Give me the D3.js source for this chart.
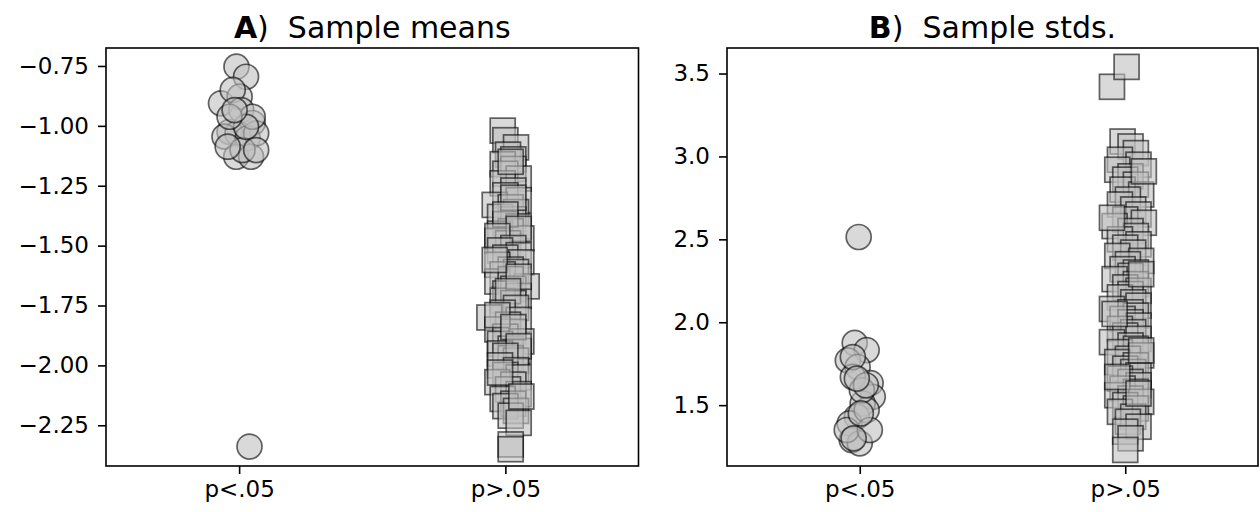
<!DOCTYPE html>
<html>
<head>
<meta charset="utf-8">
<script src="https://cdn.jsdelivr.net/npm/d3@7"></script>
<style>
  body { margin: 0; background: #fff; }
  svg text { font-family: "DejaVu Sans", sans-serif; fill: #000; }
</style>
</head>
<body>
<script>
// categories on the x axis
var groups = ["p<.05", "p>.05"];

// panel A, sample means
var meansLo = [-0.753, -0.795, -0.906, -0.878, -0.85, -0.934, -0.988, -1.025, -1.031, -1.045, -1.052,
  -1.031, -1.129, -1.129, -1.101, -1.087, -0.962, -1.004, -0.962, -0.934, -1.101, -2.339];
var meansLoJit = [-0.01, 0.026, -0.068, 0.002, -0.024, 0.008, 0.051, -0.036, -0.006, -0.055, 0.032,
  0.064, -0.011, 0.045, 0.013, -0.043, 0.051, 0.026, -0.036, -0.017, 0.064, 0.039];

var meansHi = [
  -1.02, -1.06, -1.09, -1.12, -1.14, -1.16, -1.18, -1.20, -1.22, -1.24, -1.15, -1.27,
  -1.29, -1.31, -1.33, -1.34, -1.36, -1.38, -1.39, -1.41, -1.42, -1.44, -1.45, -1.47, -1.48, -1.49, -1.30, -1.37, -1.43, -1.46,
  -1.51, -1.52, -1.54, -1.55, -1.57, -1.58, -1.60, -1.61, -1.62, -1.67, -1.65, -1.64, -1.68, -1.70, -1.71, -1.73, -1.74, -1.56, -1.63, -1.69,
  -1.76, -1.78, -1.80, -1.81, -1.83, -1.85, -1.86, -1.88, -1.90, -1.91, -1.93, -1.94, -1.95, -1.97, -1.98, -1.79, -1.84, -1.92, -1.96,
  -2.00, -2.02, -2.04, -2.05, -2.07, -2.08, -2.10, -2.12, -2.14, -2.16, -2.17, -2.19, -2.21, -2.03, -2.13,
  -2.24, -2.33, -2.35];
var meansHiJit = [
  -0.01, 0.00, 0.04, 0.01, 0.03, -0.01, 0.03, 0.00, 0.05, -0.01, 0.02, 0.03,
  0.00, 0.05, -0.04, 0.02, 0.04, -0.02, 0.03, 0.00, 0.05, 0.02, -0.02, 0.06, -0.03, 0.01, 0.03, 0.00, 0.05, -0.03,
  0.03, -0.02, 0.05, 0.00, 0.06, -0.03, 0.02, 0.04, -0.01, 0.08, -0.03, 0.02, 0.03, 0.00, 0.05, -0.01, 0.03, -0.04, 0.05, 0.01,
  0.04, -0.01, -0.06, 0.05, 0.01, -0.03, 0.03, 0.00, 0.06, -0.02, 0.02, 0.05, -0.02, 0.02, 0.04, -0.03, 0.03, 0.05, 0.00,
  -0.02, 0.04, 0.00, 0.05, -0.03, 0.03, 0.01, 0.05, -0.01, 0.03, 0.00, 0.04, 0.02, -0.02, 0.06,
  0.05, 0.02, 0.02];

// panel B, sample standard deviations
var stdsLo = [1.875, 1.832, 1.77, 1.73, 1.633, 1.67, 1.55, 1.51, 1.43, 1.39, 1.47, 1.29, 1.27, 1.35,
  1.35, 1.59, 1.79, 1.62, 1.30, 1.45, 1.66, 2.514];
var stdsLoJit = [-0.019, 0.026, -0.045, -0.008, 0.041, -0.026, 0.049, 0.011, -0.011, -0.038, 0.026, -0.03, 0.0, -0.049,
  0.038, 0.008, -0.026, 0.023, -0.023, 0.004, -0.011, -0.004];

var stdsHi = [
  3.09, 3.06, 3.02, 2.98, 2.95, 2.92, 2.88, 2.86, 2.83, 2.80, 2.77, 2.74, 2.71, 2.68, 2.65, 2.62, 2.60, 2.58, 2.55, 2.52,
  2.50, 2.47, 2.45, 2.42, 2.40, 2.37, 2.35, 2.32, 2.30, 2.28, 2.26, 2.23, 2.21, 2.19, 2.17, 2.15, 2.12, 2.10, 2.08, 2.06,
  2.04, 2.02, 2.00, 1.98, 1.96, 1.94, 1.92, 1.90, 1.88, 1.86, 1.84, 1.82, 1.80, 1.78, 1.76, 1.74, 1.72, 1.70, 1.68, 1.66,
  1.64, 1.62, 1.60, 1.58, 1.56, 1.54, 1.52, 1.50, 1.48, 1.46, 1.43, 1.40, 1.37, 1.34, 1.30,
  2.91, 2.63, 2.29, 2.05, 1.83, 1.67, 1.57,
  1.23, 3.42, 3.54];
var stdsHiJit = [
  -0.01, 0.02, 0.04, -0.02, 0.05, -0.03, 0.02, 0.00, 0.04, -0.01, 0.06, 0.01, -0.02, 0.03, 0.05, 0.00, 0.07, -0.04, 0.02, 0.04,
  -0.02, 0.05, 0.00, 0.03, -0.03, 0.06, 0.01, -0.01, 0.04, 0.02, -0.04, 0.04, 0.00, 0.05, 0.02, -0.02, 0.03, 0.05, -0.05, 0.02,
  0.04, -0.01, 0.02, 0.05, -0.02, 0.03, 0.00, 0.05, -0.05, 0.02, 0.04, -0.02, 0.06, 0.01, -0.03, 0.04, 0.00, 0.03, 0.05, -0.02,
  0.02, 0.05, -0.01, 0.04, -0.03, 0.02, 0.06, 0.00, 0.04, -0.02, 0.03, 0.01, 0.05, 0.00, 0.02,
  0.07, -0.05, 0.06, -0.04, 0.06, -0.03, 0.05,
  0.00, -0.05, 0.005];

var meansTicks = [-2.25, -2.0, -1.75, -1.5, -1.25, -1.0, -0.75];
var stdsTicks = [1.5, 2.0, 2.5, 3.0, 3.5];

var svg = d3.select("body").append("svg")
  .attr("width", 1260)
  .attr("height", 512);

var plotTop = 48, plotBottom = 466;

function zip(vals, jit, g) {
  return vals.map(function(v, i) { return { g: g, v: v, j: jit[i] }; });
}

function panel(opts) {
  var x = d3.scaleLinear().domain([-0.5, 1.5]).range([opts.left, opts.right]);
  var y = d3.scaleLinear().domain(opts.ydom).range([plotBottom, plotTop]);
  var g = svg.append("g");

  // points, circles for p<.05 and squares for p>.05
  var pts = g.append("g");
  pts.selectAll("circle")
    .data(opts.lo)
    .enter().append("circle")
    .attr("cx", function(d) { return x(d.g + d.j); })
    .attr("cy", function(d) { return y(d.v); })
    .attr("r", 12.5)
    .attr("fill", "silver").attr("fill-opacity", 0.6)
    .attr("stroke", "#000").attr("stroke-opacity", 0.6).attr("stroke-width", 1.7);

  var s = 25;
  pts.selectAll("rect")
    .data(opts.hi)
    .enter().append("rect")
    .attr("x", function(d) { return x(d.g + d.j) - s / 2; })
    .attr("y", function(d) { return y(d.v) - s / 2; })
    .attr("width", s).attr("height", s)
    .attr("fill", "silver").attr("fill-opacity", 0.6)
    .attr("stroke", "#000").attr("stroke-opacity", 0.6).attr("stroke-width", 1.7);

  // axes
  var ya = g.append("g")
    .attr("transform", "translate(" + opts.left + ",0)")
    .call(d3.axisLeft(y).tickValues(opts.ticks).tickFormat(d3.format(opts.fmt)).tickSize(8).tickPadding(9));
  var xa = g.append("g")
    .attr("transform", "translate(0," + plotBottom + ")")
    .call(d3.axisBottom(x).tickValues([0, 1]).tickFormat(function(d) { return groups[d]; }).tickSize(8).tickPadding(7));
  [ya, xa].forEach(function(a) {
    a.select(".domain").remove();
    a.selectAll("line").attr("stroke", "#000").attr("stroke-width", 1.6);
    a.selectAll("text").style("font-size", "23px").attr("fill", "#000");
  });

  g.append("rect")
    .attr("x", opts.left).attr("y", plotTop)
    .attr("width", opts.right - opts.left).attr("height", plotBottom - plotTop)
    .attr("fill", "none").attr("stroke", "#000").attr("stroke-width", 1.6);

  var t = g.append("text")
    .attr("x", (opts.left + opts.right) / 2)
    .attr("y", 38)
    .attr("text-anchor", "middle")
    .style("font-size", "30px")
    .style("white-space", "pre");
  t.append("tspan").style("font-weight", "bold").text(opts.letter);
  t.append("tspan").text(")  " + opts.title);
}

panel({
  left: 106, right: 638.5, ydom: [-2.42, -0.675], ticks: meansTicks, fmt: ".2f",
  lo: zip(meansLo, meansLoJit, 0), hi: zip(meansHi, meansHiJit, 1),
  letter: "A", title: "Sample means"
});

panel({
  left: 727, right: 1258, ydom: [1.133, 3.654], ticks: stdsTicks, fmt: ".1f",
  lo: zip(stdsLo, stdsLoJit, 0), hi: zip(stdsHi, stdsHiJit, 1),
  letter: "B", title: "Sample stds."
});
</script>
</body>
</html>
